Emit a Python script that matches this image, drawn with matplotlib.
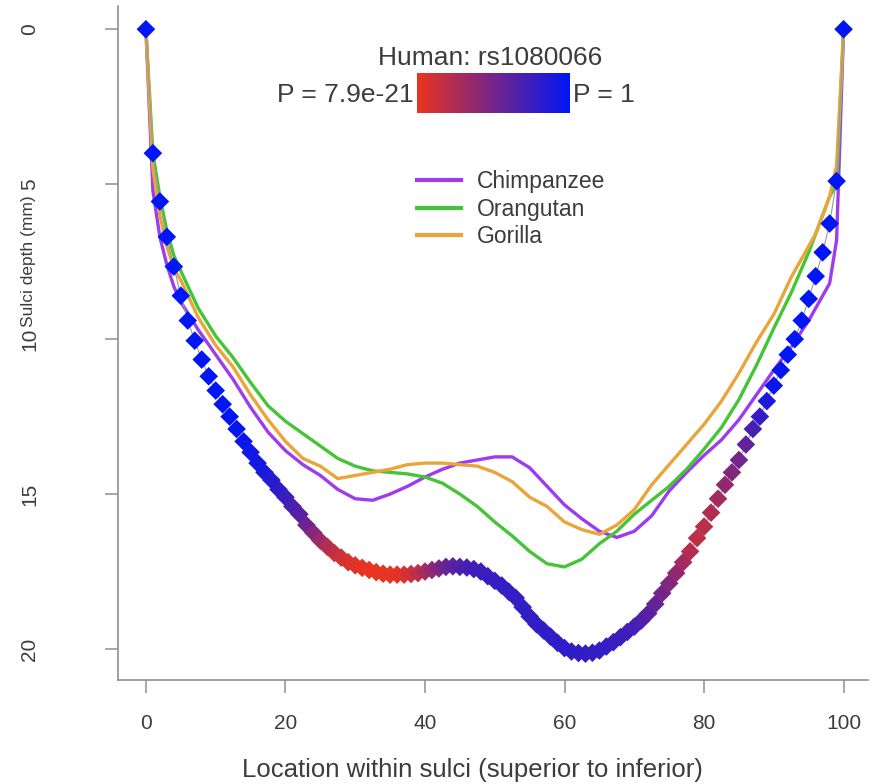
import numpy as np
import matplotlib.pyplot as plt
from matplotlib.colors import LinearSegmentedColormap, Normalize
from matplotlib.cm import ScalarMappable
from matplotlib.lines import Line2D

plt.rcParams['font.family'] = ['Liberation Sans', 'DejaVu Sans']

# human sulcal depth profile, one point per percent of sulcal length
location = np.arange(0, 101)
human_depth = [
    0, 4.0, 5.56, 6.7, 7.66, 8.6, 9.4, 10.05, 10.66, 11.2,
    11.66, 12.1, 12.5, 12.9, 13.3, 13.65, 14.0, 14.3, 14.55, 14.85,
    15.1, 15.4, 15.65, 16.0, 16.25, 16.5, 16.7, 16.9, 17.05, 17.2,
    17.3, 17.38, 17.45, 17.52, 17.57, 17.6, 17.6, 17.6, 17.58, 17.55,
    17.5, 17.45, 17.4, 17.35, 17.33, 17.35, 17.37, 17.42, 17.5, 17.65,
    17.8, 17.95, 18.15, 18.35, 18.65, 18.95, 19.2, 19.4, 19.6, 19.8,
    19.97, 20.08, 20.13, 20.15, 20.12, 20.05, 19.92, 19.78, 19.62, 19.45,
    19.28, 19.08, 18.85, 18.55, 18.2, 17.88, 17.55, 17.2, 16.85, 16.42,
    16.05, 15.6, 15.15, 14.7, 14.3, 13.9, 13.4, 12.9, 12.5, 12.0,
    11.5, 11.0, 10.5, 10.0, 9.4, 8.7, 7.97, 7.2, 6.27, 4.9,
    0,
]
# -log10(P) of the association with rs1080066 at each location
human_neglogp = [
    0, 0, 0, 0, 0, 0, 0, 0, 0, 0,
    0, 0.2, 0.3, 0.5, 0.8, 1.2, 1.8, 2.5, 3.2, 4.0,
    5.0, 6.2, 7.6, 9.5, 11.5, 13.5, 15.2, 16.6, 17.8, 18.7,
    19.3, 19.7, 20.0, 20.1, 20.1, 20.0, 19.6, 18.9, 17.8, 16.2,
    14.5, 12.6, 10.8, 9.2, 8.0, 7.0, 6.2, 5.6, 5.2, 4.9,
    4.7, 4.6, 4.5, 4.5, 4.4, 4.4, 4.3, 4.3, 4.2, 4.2,
    4.2, 4.2, 4.3, 4.3, 4.4, 4.5, 4.6, 4.8, 5.0, 5.4,
    5.9, 6.6, 7.5, 8.8, 10.0, 11.2, 12.6, 14.0, 15.5, 16.4,
    16.0, 15.2, 14.0, 12.6, 11.2, 9.8, 8.4, 6.2, 4.4, 2.5,
    1.0, 0.5, 0, 0, 0, 0, 0, 0, 0, 0,
    0,
]
p_min_label = 'P = 7.9e-21'
p_max_label = 'P = 1'
neglogp_max = 20.1

# other apes
ape_x = [0, 1, 2, 3, 4, 5, 7.5, 10, 12.5, 15, 17.5, 20, 22.5, 25, 27.5, 30,
         32.5, 35, 37.5, 40, 42.5, 45, 47.5, 50, 52.5, 55, 57.5, 60, 62.5,
         65, 67.5, 70, 72.5, 75, 77.5, 80, 82.5, 85, 87.5, 90, 92.5, 95,
         96, 97, 98, 99, 100]
chimpanzee = [0, 5.2, 6.7, 7.6, 8.3, 8.8, 9.7, 10.5, 11.3, 12.2, 13.0, 13.6,
              14.05, 14.4, 14.85, 15.15, 15.2, 15.0, 14.75, 14.45, 14.2, 14.0,
              13.9, 13.8, 13.8, 14.15, 14.75, 15.35, 15.8, 16.2, 16.4, 16.2,
              15.7, 14.9, 14.3, 13.75, 13.25, 12.6, 11.8, 11.0, 10.25, 9.4,
              9.0, 8.6, 8.2, 6.8, 0]
orangutan = [0, 4.0, 5.4, 6.5, 7.3, 7.8, 9.0, 9.9, 10.6, 11.4, 12.15, 12.65,
             13.05, 13.45, 13.85, 14.1, 14.25, 14.3, 14.35, 14.45, 14.65, 15.0,
             15.4, 15.9, 16.35, 16.85, 17.25, 17.35, 17.1, 16.6, 16.2, 15.65,
             15.2, 14.75, 14.2, 13.55, 12.85, 11.95, 10.85, 9.65, 8.5, 7.2,
             6.6, 6.0, 5.4, 5.0, 0]
gorilla = [0, 4.5, 6.0, 7.0, 7.7, 8.1, 9.3, 10.2, 10.9, 11.8, 12.6, 13.3,
           13.85, 14.1, 14.5, 14.4, 14.3, 14.2, 14.05, 14.0, 14.0, 14.05,
           14.1, 14.3, 14.6, 15.1, 15.4, 15.9, 16.15, 16.3, 16.0, 15.5,
           14.7, 14.05, 13.4, 12.75, 12.0, 11.1, 10.1, 9.2, 8.0, 7.0,
           6.6, 6.0, 5.4, 4.4, 0]

ape_names = ['Chimpanzee', 'Orangutan', 'Gorilla']
ape_colors = ['#9C3CEE', '#45C536', '#E9A53A']

txt = '#3c3c3c'
axis_grey = '#8f8f8f'

cmap = LinearSegmentedColormap.from_list('p', ['#0016F4', '#E93420'])
norm = Normalize(0, neglogp_max)

fig = plt.figure(figsize=(8.72, 7.84), dpi=100)
ax = fig.add_axes([118 / 872, 104 / 784, 750 / 872, 674 / 784])

for vals, name, col in zip([chimpanzee, orangutan, gorilla], ape_names, ape_colors):
    ax.plot(ape_x, vals, color=col, lw=2.4, label=name, zorder=2)

ax.plot(location, human_depth, color='#9a9a9a', lw=0.8, zorder=2.5)
ax.scatter(location, human_depth, c=human_neglogp, cmap=cmap, norm=norm,
           marker='D', s=90, edgecolors='none', zorder=3)

ax.set_xlim(-4, 103.5)
ax.set_ylim(21.0, -0.75)
ax.set_xticks([0, 20, 40, 60, 80, 100])
ax.set_yticks([0, 5, 10, 15, 20])

for s in ['top', 'right']:
    ax.spines[s].set_visible(False)
for s in ['left', 'bottom']:
    ax.spines[s].set_color(axis_grey)
    ax.spines[s].set_linewidth(1.2)

ax.tick_params(axis='both', direction='out', length=9.4, width=1.1,
               color=axis_grey, labelcolor=txt, labelsize=15)
ax.tick_params(axis='x', pad=15)
ax.tick_params(axis='y', pad=54, labelrotation=90)
plt.setp(ax.get_yticklabels(), ha='center', va='center')

leg_handles = [Line2D([], [], color=c, lw=3) for c in ape_colors]
ax.legend(leg_handles, ape_names, loc='upper left',
          bbox_to_anchor=(417 / 872, 1 - 170 / 784), bbox_transform=fig.transFigure,
          frameon=False, fontsize=16.5, handlelength=1.9, handletextpad=0.7,
          labelspacing=0.2, borderpad=0, borderaxespad=0, labelcolor=txt)

# p-value colour key
cax = fig.add_axes([417 / 872, (784 - 113) / 784, 153 / 872, 40 / 784])
cb = fig.colorbar(ScalarMappable(norm=norm, cmap=cmap), cax=cax, orientation='horizontal')
cb.set_ticks([])
cb.outline.set_visible(False)
cax.invert_xaxis()

fig.text(490 / 872, 1 - 58 / 784, 'Human: rs1080066', ha='center', va='center',
         fontsize=19, color=txt)
fig.text(414 / 872, 1 - 95 / 784, p_min_label, ha='right', va='center',
         fontsize=19, color=txt)
fig.text(573 / 872, 1 - 95 / 784, p_max_label, ha='left', va='center',
         fontsize=19, color=txt)

fig.text(472 / 872, 1 - 770 / 784, 'Location within sulci (superior to inferior)',
         ha='center', va='center', fontsize=18.5, color=txt)
fig.text(28 / 872, 1 - 261 / 784, 'Sulci depth (mm)', rotation=90,
         ha='center', va='center', fontsize=12.5, color=txt)

fig.savefig('out.png', dpi=100)
